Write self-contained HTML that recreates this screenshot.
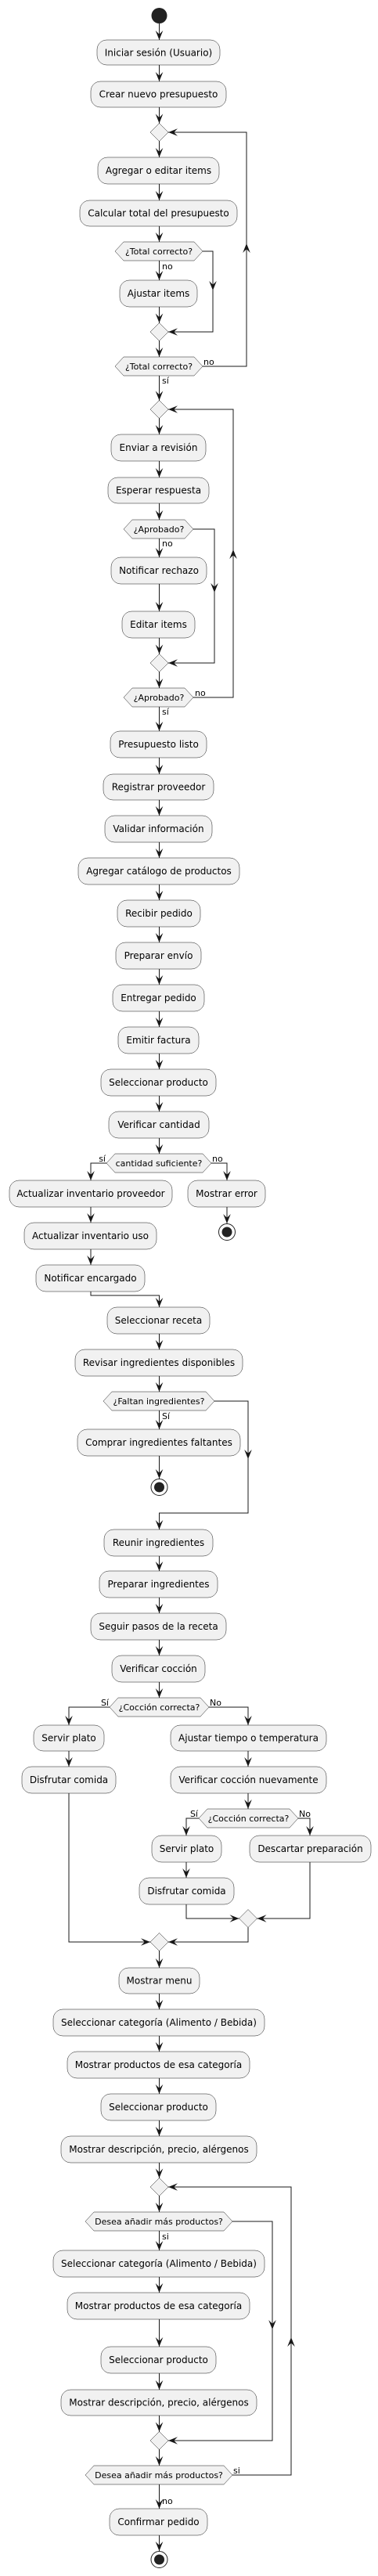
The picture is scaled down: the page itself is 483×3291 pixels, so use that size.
<!DOCTYPE html>
<html><head><meta charset="utf-8"><style>
html,body{margin:0;padding:0;background:#fff}
svg{display:block}
.b{fill:#F1F1F1;stroke:#181818;stroke-width:0.5}
.l{fill:none;stroke:#181818;stroke-width:1}
text{font-family:"DejaVu Sans","Liberation Sans",sans-serif;fill:#000}
.t{font-size:12px;text-anchor:middle}
.h{font-size:11px;text-anchor:middle}
.s{font-size:11px}
</style></head><body>
<svg width="483" height="3291" viewBox="0 0 483 3291" xmlns="http://www.w3.org/2000/svg">
<defs><marker id="a" markerUnits="userSpaceOnUse" markerWidth="12" markerHeight="10" viewBox="0 0 10 8" refX="10" refY="4" orient="auto"><path d="M0,0 L10,4 L0,8 L4,4 Z" fill="#181818"/></marker></defs>

<!-- start -->
<circle cx="203.5" cy="20" r="10" fill="#222"/>

<!-- boxes -->
<g>
<rect class="b" x="124" y="51" width="157" height="32" rx="12.5"/><text class="t" x="202.5" y="71.5">Iniciar sesión (Usuario)</text>
<rect class="b" x="116" y="104" width="173" height="33" rx="12.5"/><text class="t" x="202.5" y="124.5">Crear nuevo presupuesto</text>
<rect class="b" x="125" y="201" width="155" height="34" rx="12.5"/><text class="t" x="202.5" y="222">Agregar o editar items</text>
<rect class="b" x="102" y="256" width="201" height="33" rx="12.5"/><text class="t" x="202.5" y="276.5">Calcular total del presupuesto</text>
<rect class="b" x="153" y="358" width="99" height="34" rx="12.5"/><text class="t" x="202.5" y="379">Ajustar items</text>
<rect class="b" x="142" y="555" width="121" height="34" rx="12.5"/><text class="t" x="202.5" y="576">Enviar a revisión</text>
<rect class="b" x="138" y="610" width="129" height="33" rx="12.5"/><text class="t" x="202.5" y="630.5">Esperar respuesta</text>
<rect class="b" x="142" y="712" width="122" height="34" rx="12.5"/><text class="t" x="203" y="733">Notificar rechazo</text>
<rect class="b" x="156" y="781" width="93" height="34" rx="12.5"/><text class="t" x="202.5" y="802">Editar items</text>
<rect class="b" x="141" y="934" width="123" height="34" rx="12.5"/><text class="t" x="202.5" y="955">Presupuesto listo</text>
<rect class="b" x="132" y="989" width="141" height="33" rx="12.5"/><text class="t" x="202.5" y="1009.5">Registrar proveedor</text>
<rect class="b" x="134" y="1042" width="137" height="34" rx="12.5"/><text class="t" x="202.5" y="1063">Validar información</text>
<rect class="b" x="100" y="1096" width="206" height="34" rx="12.5"/><text class="t" x="203" y="1117">Agregar catálogo de productos</text>
<rect class="b" x="150" y="1150" width="106" height="34" rx="12.5"/><text class="t" x="203" y="1171">Recibir pedido</text>
<rect class="b" x="148" y="1204" width="109" height="34" rx="12.5"/><text class="t" x="202.5" y="1225">Preparar envío</text>
<rect class="b" x="144" y="1258" width="117" height="34" rx="12.5"/><text class="t" x="202.5" y="1279">Entregar pedido</text>
<rect class="b" x="151" y="1312" width="103" height="34" rx="12.5"/><text class="t" x="202.5" y="1333">Emitir factura</text>
<rect class="b" x="129" y="1366" width="147" height="34" rx="12.5"/><text class="t" x="202.5" y="1387">Seleccionar producto</text>
<rect class="b" x="139" y="1420" width="128" height="34" rx="12.5"/><text class="t" x="203" y="1441">Verificar cantidad</text>
<rect class="b" x="12" y="1508" width="208" height="34" rx="12.5"/><text class="t" x="116" y="1529">Actualizar inventario proveedor</text>
<rect class="b" x="240" y="1508" width="99" height="34" rx="12.5"/><text class="t" x="289.5" y="1529">Mostrar error</text>
<rect class="b" x="31" y="1562" width="169" height="34" rx="12.5"/><text class="t" x="115.5" y="1583">Actualizar inventario uso</text>
<rect class="b" x="46" y="1616" width="139" height="34" rx="12.5"/><text class="t" x="115.5" y="1637">Notificar encargado</text>
<rect class="b" x="137" y="1670" width="131" height="34" rx="12.5"/><text class="t" x="202.5" y="1691">Seleccionar receta</text>
<rect class="b" x="96" y="1724" width="214" height="34" rx="12.5"/><text class="t" x="203" y="1745">Revisar ingredientes disponibles</text>
<rect class="b" x="99" y="1826" width="208" height="34" rx="12.5"/><text class="t" x="203" y="1847">Comprar ingredientes faltantes</text>
<rect class="b" x="133" y="1954" width="139" height="34" rx="12.5"/><text class="t" x="202.5" y="1975">Reunir ingredientes</text>
<rect class="b" x="127" y="2007" width="151" height="34" rx="12.5"/><text class="t" x="202.5" y="2028">Preparar ingredientes</text>
<rect class="b" x="116" y="2061" width="173" height="34" rx="12.5"/><text class="t" x="202.5" y="2082">Seguir pasos de la receta</text>
<rect class="b" x="143" y="2115" width="119" height="34" rx="12.5"/><text class="t" x="202.5" y="2136">Verificar cocción</text>
<rect class="b" x="43" y="2204" width="90" height="33" rx="12.5"/><text class="t" x="88" y="2224.5">Servir plato</text>
<rect class="b" x="218" y="2204" width="199" height="33" rx="12.5"/><text class="t" x="317.5" y="2224.5">Ajustar tiempo o temperatura</text>
<rect class="b" x="28" y="2257" width="120" height="34" rx="12.5"/><text class="t" x="88" y="2278">Disfrutar comida</text>
<rect class="b" x="218" y="2257" width="199" height="34" rx="12.5"/><text class="t" x="317.5" y="2278">Verificar cocción nuevamente</text>
<rect class="b" x="194" y="2345" width="89" height="34" rx="12.5"/><text class="t" x="238.5" y="2366">Servir plato</text>
<rect class="b" x="319" y="2345" width="155" height="34" rx="12.5"/><text class="t" x="396.5" y="2366">Descartar preparación</text>
<rect class="b" x="178" y="2399" width="121" height="34" rx="12.5"/><text class="t" x="238.5" y="2420">Disfrutar comida</text>
<rect class="b" x="152" y="2514" width="103" height="33" rx="12.5"/><text class="t" x="203.5" y="2534.5">Mostrar menu</text>
<rect class="b" x="68" y="2567" width="270" height="34" rx="12.5"/><text class="t" x="203" y="2588">Seleccionar categoría (Alimento / Bebida)</text>
<rect class="b" x="86" y="2621" width="233" height="34" rx="12.5"/><text class="t" x="202.5" y="2642">Mostrar productos de esa categoría</text>
<rect class="b" x="129" y="2675" width="147" height="34" rx="12.5"/><text class="t" x="202.5" y="2696">Seleccionar producto</text>
<rect class="b" x="78" y="2729" width="250" height="34" rx="12.5"/><text class="t" x="203" y="2750">Mostrar descripción, precio, alérgenos</text>
<rect class="b" x="68" y="2875" width="270" height="34" rx="12.5"/><text class="t" x="203" y="2896">Seleccionar categoría (Alimento / Bebida)</text>
<rect class="b" x="86" y="2929" width="233" height="34" rx="12.5"/><text class="t" x="202.5" y="2950">Mostrar productos de esa categoría</text>
<rect class="b" x="129" y="2998" width="147" height="34" rx="12.5"/><text class="t" x="202.5" y="3019">Seleccionar producto</text>
<rect class="b" x="78" y="3053" width="250" height="33" rx="12.5"/><text class="t" x="203" y="3073.5">Mostrar descripción, precio, alérgenos</text>
<rect class="b" x="140" y="3205" width="125" height="34" rx="12.5"/><text class="t" x="202.5" y="3226">Confirmar pedido</text>
</g>

<!-- hexagons -->
<g>
<polygon class="b" points="147,321 158,309 248,309 259,321 248,333 158,333"/><text class="h" x="203" y="325">¿Total correcto?</text>
<polygon class="b" points="147,468 158,456 248,456 259,468 248,480 158,480"/><text class="h" x="203" y="472">¿Total correcto?</text>
<polygon class="b" points="158,676 169,664 236,664 247,676 236,688 169,688"/><text class="h" x="203" y="680">¿Aprobado?</text>
<polygon class="b" points="158,891 169,879 236,879 247,891 236,903 169,903"/><text class="h" x="203" y="895">¿Aprobado?</text>
<polygon class="b" points="136,1486 147,1474 259,1474 270,1486 259,1498 147,1498"/><text class="h" x="203" y="1490">cantidad suficiente?</text>
<polygon class="b" points="132,1790 143,1778 263,1778 274,1790 263,1802 143,1802"/><text class="h" x="203" y="1794">¿Faltan ingredientes?</text>
<polygon class="b" points="140,2181 151,2169 256,2169 267,2181 256,2193 151,2193"/><text class="h" x="203.5" y="2185">¿Cocción correcta?</text>
<polygon class="b" points="254,2323 265,2311 370,2311 381,2323 370,2335 265,2335"/><text class="h" x="317.5" y="2327">¿Cocción correcta?</text>
<polygon class="b" points="109,2838 120,2826 286,2826 297,2838 286,2850 120,2850"/><text class="h" x="203" y="2842">Desea añadir más productos?</text>
<polygon class="b" points="109,3162 120,3150 286,3150 297,3162 286,3174 120,3174"/><text class="h" x="203" y="3166">Desea añadir más productos?</text>
</g>

<!-- merge diamonds -->
<g>
<polygon class="b" points="203.5,157.5 215,169 203.5,180.5 192,169"/>
<polygon class="b" points="203.5,412.5 215,424 203.5,435.5 192,424"/>
<polygon class="b" points="203.5,511.5 215,523 203.5,534.5 192,523"/>
<polygon class="b" points="203.5,835.5 215,847 203.5,858.5 192,847"/>
<polygon class="b" points="317,2439.5 328.5,2451 317,2462.5 305.5,2451"/>
<polygon class="b" points="203.5,2469.5 215,2481 203.5,2492.5 192,2481"/>
<polygon class="b" points="203.5,2782.5 215,2794 203.5,2805.5 192,2794"/>
<polygon class="b" points="203.5,3106.5 215,3118 203.5,3129.5 192,3118"/>
</g>

<!-- end circles -->
<g>
<circle cx="290" cy="1574" r="10.5" fill="none" stroke="#222" stroke-width="1"/><circle cx="290" cy="1574" r="6.5" fill="#222"/>
<circle cx="203.5" cy="1900" r="10.5" fill="none" stroke="#222" stroke-width="1"/><circle cx="203.5" cy="1900" r="6.5" fill="#222"/>
<circle cx="203.5" cy="3270" r="10.5" fill="none" stroke="#222" stroke-width="1"/><circle cx="203.5" cy="3270" r="6.5" fill="#222"/>
</g>

<!-- vertical connectors -->
<g class="l" marker-end="url(#a)">
<path class="l" marker-end="url(#a)" d="M203.5,30V51"/>
<path class="l" marker-end="url(#a)" d="M203.5,83V104"/>
<path class="l" marker-end="url(#a)" d="M203.5,137V157.5"/>
<path class="l" marker-end="url(#a)" d="M203.5,180.5V201"/>
<path class="l" marker-end="url(#a)" d="M203.5,235V256"/>
<path class="l" marker-end="url(#a)" d="M203.5,289V309"/>
<path class="l" marker-end="url(#a)" d="M203.5,333V358"/>
<path class="l" marker-end="url(#a)" d="M203.5,392V412.5"/>
<path class="l" marker-end="url(#a)" d="M203.5,435.5V456"/>
<path class="l" marker-end="url(#a)" d="M203.5,480V511.5"/>
<path class="l" marker-end="url(#a)" d="M203.5,534.5V555"/>
<path class="l" marker-end="url(#a)" d="M203.5,589V610"/>
<path class="l" marker-end="url(#a)" d="M203.5,643V664"/>
<path class="l" marker-end="url(#a)" d="M203.5,688V712"/>
<path class="l" marker-end="url(#a)" d="M203.5,746V781"/>
<path class="l" marker-end="url(#a)" d="M203.5,815V835.5"/>
<path class="l" marker-end="url(#a)" d="M203.5,858.5V879"/>
<path class="l" marker-end="url(#a)" d="M203.5,903V934"/>
<path class="l" marker-end="url(#a)" d="M203.5,968V989"/>
<path class="l" marker-end="url(#a)" d="M203.5,1022V1042"/>
<path class="l" marker-end="url(#a)" d="M203.5,1076V1096"/>
<path class="l" marker-end="url(#a)" d="M203.5,1130V1150"/>
<path class="l" marker-end="url(#a)" d="M203.5,1184V1204"/>
<path class="l" marker-end="url(#a)" d="M203.5,1238V1258"/>
<path class="l" marker-end="url(#a)" d="M203.5,1292V1312"/>
<path class="l" marker-end="url(#a)" d="M203.5,1346V1366"/>
<path class="l" marker-end="url(#a)" d="M203.5,1400V1420"/>
<path class="l" marker-end="url(#a)" d="M203.5,1454V1474"/>
<path class="l" marker-end="url(#a)" d="M290,1542V1563"/>
<path class="l" marker-end="url(#a)" d="M116,1542V1562"/>
<path class="l" marker-end="url(#a)" d="M116,1596V1616"/>
<path class="l" marker-end="url(#a)" d="M203.5,1704V1724"/>
<path class="l" marker-end="url(#a)" d="M203.5,1758V1778"/>
<path class="l" marker-end="url(#a)" d="M203.5,1802V1826"/>
<path class="l" marker-end="url(#a)" d="M203.5,1860V1889"/>
<path class="l" marker-end="url(#a)" d="M203.5,1988V2007"/>
<path class="l" marker-end="url(#a)" d="M203.5,2041V2061"/>
<path class="l" marker-end="url(#a)" d="M203.5,2095V2115"/>
<path class="l" marker-end="url(#a)" d="M203.5,2149V2169"/>
<path class="l" marker-end="url(#a)" d="M88,2237V2257"/>
<path class="l" marker-end="url(#a)" d="M317,2237V2257"/>
<path class="l" marker-end="url(#a)" d="M317,2291V2311"/>
<path class="l" marker-end="url(#a)" d="M238,2379V2399"/>
<path class="l" marker-end="url(#a)" d="M203.5,2492.5V2514"/>
<path class="l" marker-end="url(#a)" d="M203.5,2547V2567"/>
<path class="l" marker-end="url(#a)" d="M203.5,2601V2621"/>
<path class="l" marker-end="url(#a)" d="M203.5,2655V2675"/>
<path class="l" marker-end="url(#a)" d="M203.5,2709V2729"/>
<path class="l" marker-end="url(#a)" d="M203.5,2763V2782.5"/>
<path class="l" marker-end="url(#a)" d="M203.5,2805.5V2826"/>
<path class="l" marker-end="url(#a)" d="M203.5,2850V2875"/>
<path class="l" marker-end="url(#a)" d="M203.5,2909V2929"/>
<path class="l" marker-end="url(#a)" d="M203.5,2963V2998"/>
<path class="l" marker-end="url(#a)" d="M203.5,3032V3053"/>
<path class="l" marker-end="url(#a)" d="M203.5,3086V3106.5"/>
<path class="l" marker-end="url(#a)" d="M203.5,3129.5V3150"/>
<path class="l" marker-end="url(#a)" d="M203.5,3174V3205"/>
<path class="l" marker-end="url(#a)" d="M203.5,3239V3259"/>

<!-- branches -->
<path class="l" marker-end="url(#a)" d="M259,321H272V371"/>
<path class="l" marker-end="url(#a)" d="M272,370V424H215"/>
<path class="l" marker-end="url(#a)" d="M259,468H315V311"/>
<path class="l" marker-end="url(#a)" d="M315,312V169H215"/>
<path class="l" marker-end="url(#a)" d="M247,676H274V757"/>
<path class="l" marker-end="url(#a)" d="M274,756V847H215"/>
<path class="l" marker-end="url(#a)" d="M247,891H298V702"/>
<path class="l" marker-end="url(#a)" d="M298,703V523H215"/>
<path class="l" marker-end="url(#a)" d="M136,1486H116V1508"/>
<path class="l" marker-end="url(#a)" d="M270,1486H290V1508"/>
<path class="l" marker-end="url(#a)" d="M116,1650V1655H203.5V1670"/>
<path class="l" marker-end="url(#a)" d="M274,1790H317V1864"/>
<path class="l" marker-end="url(#a)" d="M317,1863V1933H203.5V1954"/>
<path class="l" marker-end="url(#a)" d="M140,2181H88V2204"/>
<path class="l" marker-end="url(#a)" d="M267,2181H317V2204"/>
<path class="l" marker-end="url(#a)" d="M254,2323H238V2345"/>
<path class="l" marker-end="url(#a)" d="M381,2323H396V2345"/>
<path class="l" marker-end="url(#a)" d="M238,2433V2451H305.5"/>
<path class="l" marker-end="url(#a)" d="M396,2379V2451H328.5"/>
<path class="l" marker-end="url(#a)" d="M317,2462.5V2481H215"/>
<path class="l" marker-end="url(#a)" d="M88,2291V2481H192"/>
<path class="l" marker-end="url(#a)" d="M297,2838H348V2976"/>
<path class="l" marker-end="url(#a)" d="M348,2975V3118H215"/>
<path class="l" marker-end="url(#a)" d="M297,3162H372V2986"/>
<path class="l" marker-end="url(#a)" d="M372,2987V2794H215"/>
</g>

<!-- labels -->
<g class="s">
<text x="207" y="344">no</text>
<text x="260" y="466">no</text>
<text x="207" y="490">sí</text>
<text x="207" y="698">no</text>
<text x="249" y="889">no</text>
<text x="207" y="913">sí</text>
<text x="135" y="1484" text-anchor="end">sí</text>
<text x="271" y="1484">no</text>
<text x="207" y="1813">Sí</text>
<text x="139" y="2179" text-anchor="end">Sí</text>
<text x="268" y="2179">No</text>
<text x="253" y="2321" text-anchor="end">Sí</text>
<text x="382" y="2321">No</text>
<text x="207" y="2861">si</text>
<text x="298" y="3160">si</text>
<text x="207" y="3199">no</text>
</g>
</svg>
</body></html>
